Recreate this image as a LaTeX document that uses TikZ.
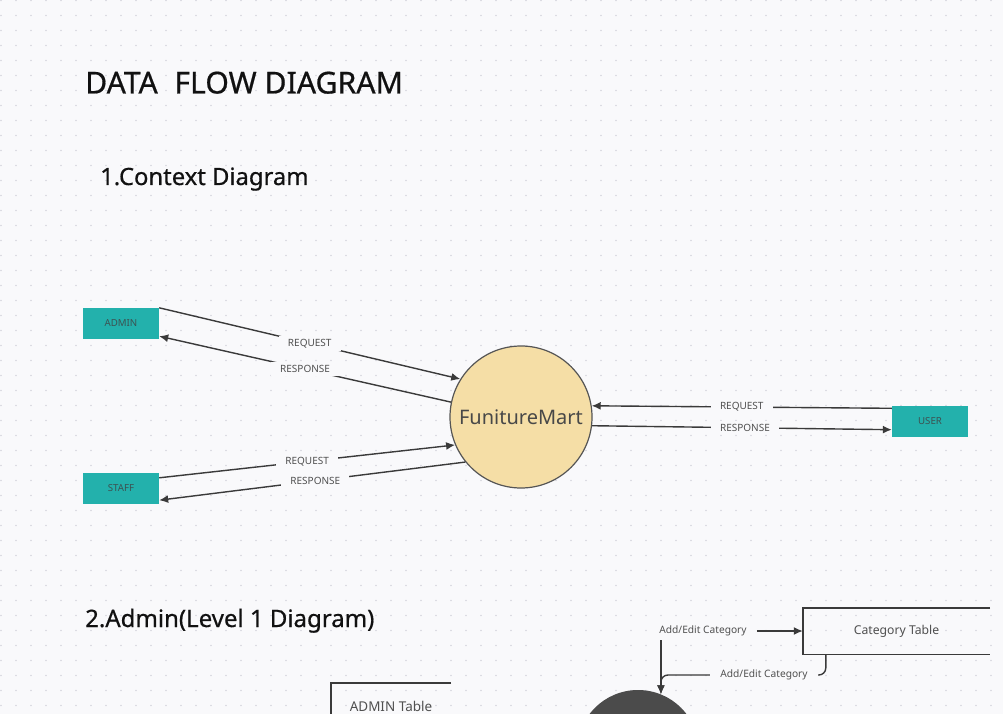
\documentclass[tikz,border=0pt]{standalone}
\usepackage{fontspec}
\setmainfont{Noto Sans}
\newfontfamily\headfont[FakeBold=0.6]{Noto Sans}
\usetikzlibrary{arrows.meta,calc}
\definecolor{bgc}{RGB}{249,249,251}
\definecolor{dotc}{RGB}{214,214,222}
\definecolor{tealc}{RGB}{35,177,172}
\definecolor{boxtxt}{RGB}{60,82,82}
\definecolor{wheatc}{RGB}{245,222,166}
\definecolor{rimc}{RGB}{85,85,85}
\definecolor{linec}{RGB}{58,58,58}
\definecolor{lblc}{RGB}{80,80,80}
\definecolor{darkc}{RGB}{75,75,75}
\definecolor{headc}{RGB}{17,17,17}
\tikzset{
  ext/.style={rectangle, fill=tealc, minimum width=76pt, minimum height=31pt, inner sep=0pt,
    text=boxtxt, font=\fontsize{9.7}{11}\selectfont},
  flow/.style={draw=linec, line width=1.4pt, -{Latex[length=9pt,width=8pt]}},
  plain/.style={draw=linec, line width=1.4pt},
  lbl/.style={fill=bgc, text=lblc, inner xsep=9pt, inner ysep=3pt, font=\fontsize{10}{11}\selectfont},
  slbl/.style={fill=bgc, text=lblc, inner xsep=10pt, inner ysep=4pt, font=\fontsize{10.2}{12}\selectfont},
  store/.style={rectangle, inner sep=0pt, text=lblc},
  head/.style={anchor=base west, text=headc, inner sep=0pt}
}
\begin{document}
\begin{tikzpicture}[x=1pt,y=-1pt]
\useasboundingbox (0,0) rectangle (1003,714);
\clip (0,0) rectangle (1003,714);
\fill[bgc] (0,0) rectangle (1003,714);
\foreach \i in {0,...,66}{
  \foreach \j in {0,...,47}{
    \fill[dotc] (1+15*\i,0.5+15*\j) circle (0.8pt);
  }
}
% headings
\node[head, font=\headfont\fontsize{30.2}{35}\selectfont] (title) at (85,93.5) {DATA\hspace{0.55em}FLOW DIAGRAM};
\node[head, font=\headfont\fontsize{23.8}{28}\selectfont] (h1) at (100,185) {1.Context Diagram};
\node[head, font=\headfont\fontsize{24}{28}\selectfont] (h2) at (85,627) {2.Admin(Level 1 Diagram)};

% context diagram
\node[circle, fill=wheatc, draw=rimc, line width=1.2pt, minimum size=142pt, inner sep=0pt,
  text=rimc!85!black, font=\fontsize{20}{22}\selectfont] (fm) at (521,417) {FunitureMart};
\node[ext] (admin) at (121,323.5) {ADMIN};
\node[ext] (staff) at (121,488.5) {STAFF};
\node[ext] (user) at (930,421) {USER};

\draw[flow] (admin.north east) -- node[lbl, pos=0.5] {REQUEST} (fm.148);
\draw[flow] (fm.168) -- node[lbl, pos=0.5] {RESPONSE} ([yshift=3pt]admin.south east);
\draw[flow] ([yshift=-5pt]staff.north east) -- node[lbl, pos=0.5] {REQUEST} (fm.203);
\draw[flow] (fm.219) -- node[lbl, pos=0.49] {RESPONSE} ([yshift=4pt]staff.south east);
\draw[flow] ([yshift=-3pt]user.north west) -- node[lbl, pos=0.5] {REQUEST} (fm.9);
\draw[flow] (fm.-7) -- node[lbl, pos=0.51] {RESPONSE} ([yshift=7pt]user.south west);

% level 1
\node[store, minimum width=187pt, minimum height=46pt, font=\fontsize{12.2}{14}\selectfont] (cat) at (896.5,631) {\raisebox{-1.5pt}{Category Table}};
\draw[plain] (cat.north east) -- (cat.north west) -- (cat.south west) -- (cat.south east);
\node[store, minimum width=120pt, minimum height=46pt, font=\fontsize{13.5}{15}\selectfont] (admt) at (391,706) {ADMIN Table};
\draw[plain] (admt.north east) -- (admt.north west) -- (admt.south west) -- (admt.south east);
\node[circle, fill=darkc, minimum size=122pt, inner sep=0pt] (proc) at (638,751) {};

\node[slbl] (la) at (703,631) {Add/Edit Category};
\draw[flow] (la.east) -- (cat.west);
\draw[flow] (la.south -| proc.68) -- (proc.68);
\draw[flow, rounded corners=7pt] ([xshift=23pt]cat.south west) |- (proc.68 |- 0,675) -- (proc.68);
\node[slbl] (lb) at (764,675) {Add/Edit Category};
\end{tikzpicture}
\end{document}
